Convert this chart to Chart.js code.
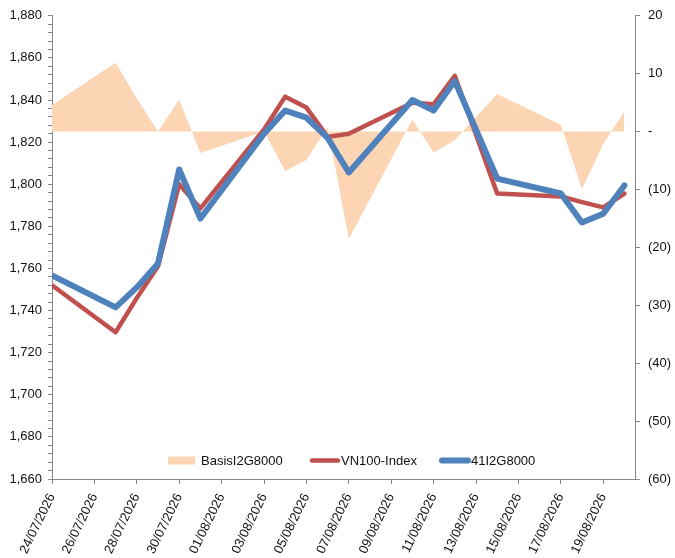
<!DOCTYPE html>
<html>
<head>
<meta charset="utf-8">
<script src="https://cdn.jsdelivr.net/npm/chart.js@4/dist/chart.umd.min.js"></script>
<style>
  body { margin: 0; background: #fff; }
  #wrap { width: 675px; height: 558px; position: relative; }
</style>
</head>
<body>
<div id="wrap"><canvas id="myChart"></canvas></div>
<script>
// every calendar day on the axis (labels shown every 2nd day)
const days = ['24/07/2026', '25/07/2026', '26/07/2026', '27/07/2026', '28/07/2026', '29/07/2026', '30/07/2026',
    '31/07/2026', '01/08/2026', '02/08/2026', '03/08/2026', '04/08/2026', '05/08/2026', '06/08/2026',
    '07/08/2026', '08/08/2026', '09/08/2026', '10/08/2026', '11/08/2026', '12/08/2026', '13/08/2026',
    '14/08/2026', '15/08/2026', '16/08/2026', '17/08/2026', '18/08/2026', '19/08/2026', '20/08/2026'];

// trading days that have data
const tradeDates = ['24/07/2026', '27/07/2026', '28/07/2026', '29/07/2026', '30/07/2026', '31/07/2026',
    '03/08/2026', '04/08/2026', '05/08/2026', '06/08/2026', '07/08/2026', '10/08/2026', '11/08/2026',
    '12/08/2026', '14/08/2026', '17/08/2026', '18/08/2026', '19/08/2026', '20/08/2026'];

const vn100 = [1752, 1729.7, 1746, 1761, 1800, 1788.5, 1826, 1841.6, 1836.4, 1822.5, 1824,
    1838.7, 1838, 1851.5, 1795.6, 1794.2, 1791.5, 1789, 1795.6];
const fut = [1756.7, 1741.5, 1751, 1762.4, 1807, 1783.7, 1824, 1835, 1831.6, 1822, 1805.6,
    1840, 1835, 1849, 1802.7, 1795.6, 1781.8, 1786, 1799.4];
const basis = [4.6, 11.9, 5.7, 0, 5.5, -3.7, 0, -6.8, -4.9, 0.7, -18.5,
    2.1, -3.6, -1.5, 6.5, 1.2, -9.9, -2.2, 3.5];

const seriesNames = ['BasisI2G8000', 'VN100-Index', '41I2G8000'];

const toPoints = (vals) => vals.map((v, i) => ({ x: days.indexOf(tradeDates[i]), y: v }));

const axisCol = '#868686';
const fontFam = "Arial, 'Liberation Sans', sans-serif";

// legend drawn inside the plot, near the bottom
const insideLegend = {
    id: 'insideLegend',
    afterDatasetsDraw(chart) {
        const ctx = chart.ctx;
        const area = chart.chartArea;
        const y = area.bottom - 18.5;
        const starts = [116, 258, 388];
        ctx.save();
        ctx.font = '13px ' + fontFam;
        ctx.textBaseline = 'middle';
        ctx.fillStyle = '#111';
        chart.data.datasets.forEach((ds, i) => {
            const x = area.left + starts[i];
            if (i === 0) {
                ctx.fillStyle = ds.backgroundColor;
                ctx.fillRect(x, y - 4, 27, 8);
            } else {
                ctx.strokeStyle = ds.borderColor;
                ctx.lineWidth = ds.borderWidth;
                ctx.lineCap = 'round';
                ctx.beginPath();
                ctx.moveTo(x + 2, y);
                ctx.lineTo(x + 28, y);
                ctx.stroke();
            }
            ctx.fillStyle = '#111';
            ctx.fillText(ds.label, x + (i === 0 ? 33 : 31), y + 0.5);
        });
        ctx.restore();
    }
};

const config = {
    type: 'line',
    data: {
        datasets: [{
            label: seriesNames[0],
            data: toPoints(basis),
            yAxisID: 'y1',
            fill: 'origin',
            backgroundColor: '#FCD5B4',
            borderWidth: 0,
            borderColor: 'rgba(0,0,0,0)',
            pointRadius: 0,
            tension: 0,
            order: 3
        }, {
            label: seriesNames[1],
            data: toPoints(vn100),
            yAxisID: 'y',
            borderColor: '#C0504D',
            borderWidth: 4.5,
            borderJoinStyle: 'round',
            borderCapStyle: 'round',
            pointRadius: 0,
            fill: false,
            tension: 0,
            order: 2
        }, {
            label: seriesNames[2],
            data: toPoints(fut),
            yAxisID: 'y',
            borderColor: '#4F81BD',
            borderWidth: 6,
            borderJoinStyle: 'round',
            borderCapStyle: 'round',
            pointRadius: 0,
            fill: false,
            tension: 0,
            order: 1
        }]
    },
    options: {
        responsive: true,
        maintainAspectRatio: false,
        animation: false,
        layout: { padding: { top: 15, left: 0, right: 0, bottom: 0 } },
        plugins: {
            legend: { display: false },
            tooltip: { enabled: false }
        },
        scales: {
            x: {
                type: 'linear',
                position: 'bottom',
                min: 0,
                max: 27.5,
                afterBuildTicks: (axis) => {
                    axis.ticks = axis.ticks.filter(t => Number.isInteger(t.value) && t.value % 2 === 0 && t.value < days.length);
                },
                afterFit: (s) => { s.height = 79; },
                ticks: {
                    stepSize: 2,
                    autoSkip: false,
                    minRotation: 64,
                    maxRotation: 64,
                    padding: 7,
                    color: '#111',
                    font: { family: fontFam, size: 13 },
                    callback: (v) => days[v] || ''
                },
                grid: { drawOnChartArea: false, color: axisCol, tickLength: 5 },
                border: { color: axisCol, width: 1 }
            },
            y: {
                position: 'left',
                min: 1660,
                max: 1880,
                afterFit: (s) => { s.width = 52; },
                ticks: {
                    stepSize: 4,
                    autoSkip: false,
                    padding: 6,
                    color: '#111',
                    font: { family: fontFam, size: 13 },
                    callback: (v) => (v % 20 === 0 ? v.toLocaleString('en-US') : '')
                },
                grid: { drawOnChartArea: false, color: axisCol, tickLength: 4 },
                border: { color: axisCol, width: 1 }
            },
            y1: {
                position: 'right',
                min: -60,
                max: 20,
                afterFit: (s) => { s.width = 40; },
                ticks: {
                    stepSize: 10,
                    padding: 8,
                    color: '#111',
                    font: { family: fontFam, size: 13 },
                    callback: (v) => (v === 0 ? '-' : v < 0 ? '(' + (-v) + ')' : String(v))
                },
                grid: { drawOnChartArea: false, color: axisCol, tickLength: 5 },
                border: { color: axisCol, width: 1 }
            }
        }
    },
    plugins: [insideLegend]
};

const myChart = new Chart(document.getElementById('myChart'), config);
</script>
</body>
</html>
